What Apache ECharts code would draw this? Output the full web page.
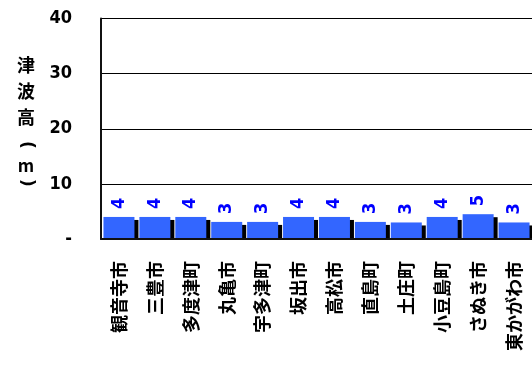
<!DOCTYPE html>
<html><head><meta charset="utf-8">
<script src="https://cdn.jsdelivr.net/npm/echarts@6/dist/echarts.min.js"></script>
<style>html,body{margin:0;padding:0;background:#fff}#c{width:532px;height:367px}</style>
</head><body><div id="c"></div>
<script>
const categories = ['観音寺市','三豊市','多度津町','丸亀市','宇多津町','坂出市','高松市','直島町','土庄町','小豆島町','さぬき市','東かがわ市'];
const heights = [4.0, 4.0, 4.0, 3.1, 3.1, 4.0, 4.0, 3.1, 3.0, 4.0, 4.5, 3.0];
const yTicks = [0, 10, 20, 30, 40];
const yTitle = '津波高（m）';

const numFont = "'DejaVu Sans Condensed','DejaVu Sans',sans-serif";
const cjkFont = "'Noto Sans CJK JP',sans-serif";

// vertical title: one glyph per line, brackets turned as in vertical writing
const titleY = [65, 91, 117, 145, 166, 183];
const halfWidth = {'（': '(', '）': ')'};
const titleEls = yTitle.split('').map((ch, i) => {
  const isBracket = ch in halfWidth;
  return {
    type: 'text', x: 26, y: titleY[i], z: 10,
    rotation: isBracket ? -Math.PI / 2 : 0,
    style: {text: isBracket ? halfWidth[ch] : ch, fill: '#000',
      fontSize: isBracket ? 17 : (ch === 'm' ? 17 : 18), fontWeight: 'bold',
      fontFamily: isBracket ? 'DejaVu Sans' : 'Noto Sans CJK JP', align: 'center', verticalAlign: 'middle'}
  };
});

const chart = echarts.init(document.getElementById('c'), null, {renderer: 'canvas'});
chart.setOption({
  animation: false,
  backgroundColor: '#fff',
  grid: {left: 101, top: 18.5, width: 437, height: 220.5, containLabel: false},
  xAxis: {
    type: 'category', data: categories, z: 5,
    axisLine: {lineStyle: {color: '#111', width: 2}},
    axisTick: {show: false},
    axisLabel: {rotate: 90, margin: 22, interval: 0, color: '#000', fontWeight: 'bold', fontSize: 18, fontFamily: cjkFont}
  },
  yAxis: {
    type: 'value', min: yTicks[0], max: yTicks[yTicks.length-1], interval: 10,
    axisLine: {show: true, lineStyle: {color: '#111', width: 2}},
    axisTick: {show: false},
    splitLine: {lineStyle: {color: '#000', width: 1}},
    axisLabel: {margin: 29, color: '#000', fontWeight: 'bold', fontSize: 18, fontFamily: numFont,
      formatter: v => v === 0 ? '-' : String(v)}
  },
  graphic: [
    {type: 'rect', z: 4, shape: {x: 101, y: 240, width: 431, height: 5}, style: {fill: '#fff'}}
  ].concat(titleEls),
  series: [{
    type: 'bar', data: heights, barWidth: 31, barCategoryGap: '15%',
    itemStyle: {color: '#3366ff', shadowColor: '#000', shadowOffsetX: 4, shadowOffsetY: 3, shadowBlur: 0},
    label: {show: true, position: 'top', rotate: 90, align: 'left', verticalAlign: 'middle', distance: 8,
      color: '#0000ff', fontWeight: 'bold', fontSize: 18, fontFamily: numFont,
      formatter: p => Math.round(p.value).toString()}
  }]
});
</script></body></html>
